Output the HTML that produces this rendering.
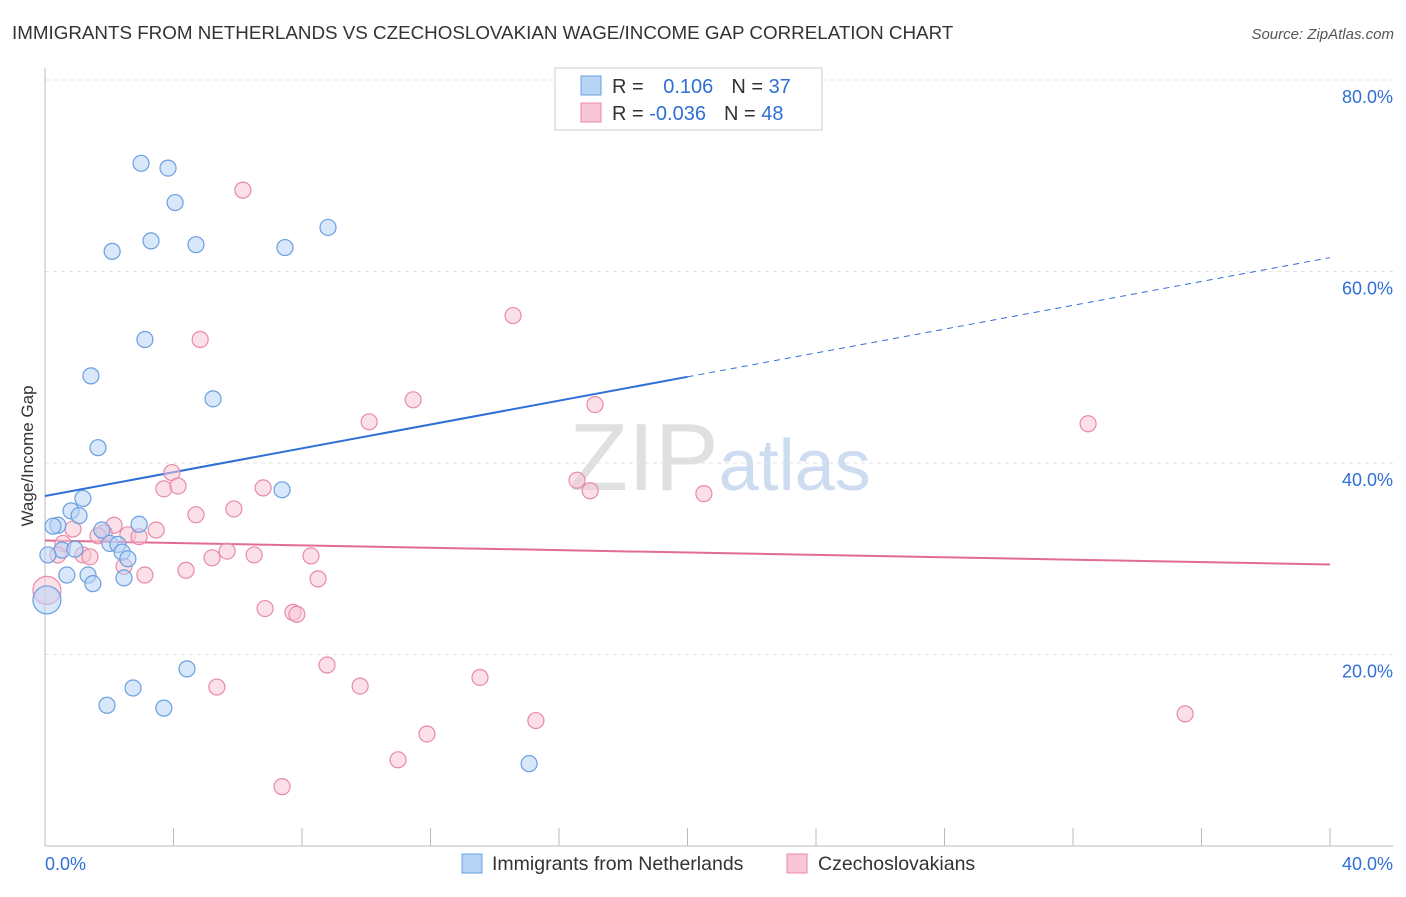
<!DOCTYPE html>
<html><head><meta charset="utf-8"><style>
body{margin:0;background:#fff;font-family:"Liberation Sans",sans-serif;}
svg text{font-family:"Liberation Sans",sans-serif;}
</style></head><body>
<svg id="chart" width="1406" height="892" viewBox="0 0 1406 892">
<text x="12" y="39" font-size="18.8" fill="#333">IMMIGRANTS FROM NETHERLANDS VS CZECHOSLOVAKIAN WAGE/INCOME GAP CORRELATION CHART</text>
<text x="1394" y="39" font-size="15" fill="#555" text-anchor="end" font-style="italic">Source: ZipAtlas.com</text>
<text x="720" y="490" font-size="96" text-anchor="middle" fill="#e0e0e0" font-family="Liberation Serif"><tspan>ZIP</tspan><tspan fill="#cddcf0" font-family="Liberation Sans" font-size="72">atlas</tspan></text>
<g id="grid"></g><g id="axes"></g><g id="lines"></g><g id="pts"></g>
<text transform="translate(33,456) rotate(-90)" font-size="17" fill="#333" text-anchor="middle">Wage/Income Gap</text>
<g>
<rect x="555" y="68" width="267" height="62" fill="#fff" stroke="#ccc"/>
<rect x="581" y="76" width="20" height="19" fill="#b8d4f5" stroke="#6a9fe0"/>
<rect x="581" y="103" width="20" height="19" fill="#f8c6d6" stroke="#e88aa8"/>
<text x="612" y="93" font-size="20" fill="#333">R = <tspan fill="#2f6fd6" dx="14">0.106</tspan><tspan dx="18">N = </tspan><tspan fill="#2f6fd6">37</tspan></text>
<text x="612" y="120" font-size="20" fill="#333">R = <tspan fill="#2f6fd6">-0.036</tspan><tspan dx="18">N = </tspan><tspan fill="#2f6fd6">48</tspan></text>
</g>
<g>
<rect x="462" y="854" width="20" height="19" fill="#b8d4f5" stroke="#6a9fe0"/>
<text x="492" y="870" font-size="19.5" fill="#333">Immigrants from Netherlands</text>
<rect x="787" y="854" width="20" height="19" fill="#f8c6d6" stroke="#e88aa8"/>
<text x="818" y="870" font-size="19.5" fill="#333">Czechoslovakians</text>
</g>
</svg>
<script>
const yTicks=[20,40,60,80];
const yTickLabels=["20.0%","40.0%","60.0%","80.0%"];
const xTickLabels=["0.0%","40.0%"];
const blueX=[2.99,3.83,4.05,3.30,2.09,4.70,7.47,8.81,3.11,1.43,5.23,1.65,7.38,1.18,0.81,0.40,1.06,2.93,1.77,0.53,0.93,2.02,2.27,2.40,2.58,0.68,1.34,1.49,2.46,0.09,0.06,4.42,2.74,1.93,3.70,15.07,0.25];
const blueY=[71.3,70.8,67.2,63.2,62.1,62.8,62.5,64.6,52.9,49.1,46.7,41.6,37.2,36.3,35.0,33.5,34.5,33.6,33.0,30.9,31.0,31.6,31.5,30.7,30.0,28.3,28.3,27.4,28.0,30.4,25.7,18.5,16.5,14.7,14.4,8.6,33.4];
const pinkX=[6.16,14.57,4.83,11.46,17.12,10.09,32.47,3.95,3.70,4.14,6.79,16.56,16.97,20.51,4.70,5.88,2.15,3.46,1.84,0.87,1.65,2.58,2.93,0.56,0.40,1.18,1.40,5.67,5.20,6.51,8.28,2.46,3.11,4.39,8.50,6.85,7.72,7.84,8.78,13.54,5.35,9.81,15.28,11.89,10.99,7.38,35.49,0.06];
const pinkY=[68.5,55.4,52.9,46.6,46.1,44.3,44.1,39.0,37.3,37.6,37.4,38.2,37.1,36.8,34.6,35.2,33.5,33.0,32.7,33.1,32.4,32.5,32.3,31.6,30.4,30.4,30.2,30.8,30.1,30.4,30.3,29.2,28.3,28.8,27.9,24.8,24.4,24.2,18.9,17.6,16.6,16.7,13.1,11.7,9.0,6.2,13.8,26.7];
const blueTrend=[36.55,0.6225];
const pinkTrend=[31.9,-0.0625];
const NS="http://www.w3.org/2000/svg";
const X=v=>45+v*1285/40, Y=v=>846-v*9.575;
function mk(p,t,a){const e=document.createElementNS(NS,t);for(const k in a)e.setAttribute(k,a[k]);p.appendChild(e);return e;}
const grid=document.getElementById('grid'),axes=document.getElementById('axes'),lines=document.getElementById('lines'),pts=document.getElementById('pts');
yTicks.forEach((t,i)=>{
 const l=mk(grid,'line',{x1:45,x2:1393,y1:Y(t),y2:Y(t),stroke:'#e2e2e2','stroke-dasharray':'4,4'});
 
 
 const tx=mk(grid,'text',{x:1393,y:Y(t)+23,'font-size':18,fill:'#2f6fd6','text-anchor':'end'});
 tx.textContent=yTickLabels[i];
 
 
});
mk(axes,'line',{x1:45,x2:45,y1:68,y2:846,stroke:'#bbb'});
mk(axes,'line',{x1:45,x2:1393,y1:846,y2:846,stroke:'#bbb'});
for(let i=0;i<=10;i++){const t=mk(axes,'line',{x1:X(i*4),x2:X(i*4),y1:828,y2:846,stroke:'#bbb'});
 
 }
[[0,'start',45],[40,'end',1393]].forEach((d,i)=>{const t=mk(axes,'text',{x:d[2],y:870,'font-size':18,fill:'#2f6fd6','text-anchor':d[1]});t.textContent=xTickLabels[i];
 
 });
const bl=mk(lines,'line',{x1:X(0),y1:Y(blueTrend[0]),x2:X(20),y2:Y(blueTrend[0]+20*blueTrend[1]),stroke:'#2f6fd6','stroke-width':2});


const bd=mk(lines,'line',{x1:X(20),y1:Y(blueTrend[0]+20*blueTrend[1]),x2:X(40),y2:Y(blueTrend[0]+40*blueTrend[1]),stroke:'#2f6fd6','stroke-width':1,'stroke-dasharray':'6,5'});


const pl=mk(lines,'line',{x1:X(0),y1:Y(pinkTrend[0]),x2:X(40),y2:Y(pinkTrend[0]+40*pinkTrend[1]),stroke:'#e36b97','stroke-width':2});


function dots(xs,ys,fill,stroke,name,bigIdx){xs.forEach((x,i)=>{const r=(i===bigIdx)?14:8;
 const c=mk(pts,'circle',{cx:X(x),cy:Y(ys[i]),r:r,fill:fill,'fill-opacity':0.55,stroke:stroke,'stroke-width':1.2});
 
 });}
dots(pinkX,pinkY,'#f8c6d6','#e88aa8','czech-point',pinkX.length-1);
dots(blueX,blueY,'#b8d4f5','#6a9fe0','netherlands-point',30);
</script>
</body></html>
